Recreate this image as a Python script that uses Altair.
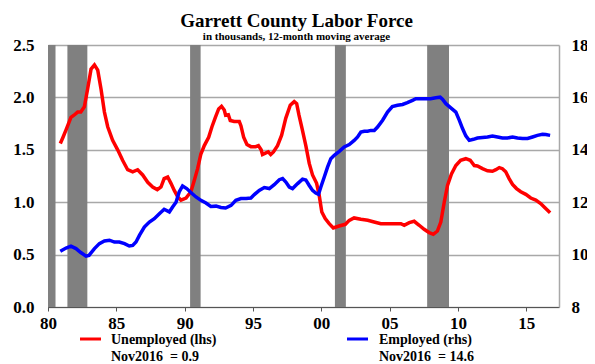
import altair as alt
import pandas as pd

# ---- data ----
unemp_year = [1980.9, 1981.1, 1981.32, 1981.5, 1981.68, 1981.9, 1982.17, 1982.4, 1982.66, 1982.9,
              1983.15, 1983.4, 1983.64, 1983.88, 1984.13, 1984.37, 1984.73, 1985.1, 1985.46, 1985.83,
              1986.2, 1986.56, 1986.93, 1987.3, 1987.66, 1988.0, 1988.27, 1988.5, 1988.76, 1989.0,
              1989.25, 1989.5, 1989.73, 1990.1, 1990.46, 1990.71, 1990.95, 1991.19, 1991.44, 1991.76,
              1992.0, 1992.25, 1992.49, 1992.7, 1992.9, 1993.0, 1993.2, 1993.34, 1993.63, 1994.0,
              1994.12, 1994.32, 1994.56, 1994.85, 1995.2, 1995.4, 1995.6, 1995.7, 1995.95, 1996.12,
              1996.3, 1996.5, 1996.8, 1997.1, 1997.4, 1997.73, 1998.02, 1998.2, 1998.37, 1998.6,
              1998.87, 1999.12, 1999.36, 1999.66, 1999.85, 2000.04, 2000.29, 2000.58, 2000.88, 2001.3,
              2001.76, 2002.05, 2002.4, 2002.9, 2003.4, 2003.87, 2004.36, 2004.85, 2005.34, 2005.83,
              2006.07, 2006.44, 2006.8, 2007.17, 2007.53, 2007.9, 2008.2, 2008.5, 2008.75, 2009.0,
              2009.24, 2009.53, 2009.85, 2010.2, 2010.58, 2010.9, 2011.2, 2011.43, 2011.8, 2012.17,
              2012.53, 2012.78, 2013.03, 2013.26, 2013.5, 2013.75, 2014.0, 2014.29, 2014.6, 2014.97,
              2015.33, 2015.7, 2016.06, 2016.39, 2016.75]
unemp_val = [1.56, 1.62, 1.69, 1.75, 1.81, 1.83, 1.86, 1.86, 1.91, 2.08,
             2.27, 2.31, 2.26, 2.08, 1.86, 1.72, 1.59, 1.50, 1.40, 1.31,
             1.29, 1.31, 1.26, 1.19, 1.145, 1.12, 1.145, 1.225, 1.24, 1.18,
             1.11, 1.05, 1.02, 1.04, 1.10, 1.21, 1.32, 1.46, 1.54, 1.62,
             1.72, 1.81, 1.89, 1.915, 1.88, 1.83, 1.835, 1.78, 1.77, 1.77,
             1.73, 1.62, 1.55, 1.53, 1.53, 1.54, 1.50, 1.455, 1.47, 1.48,
             1.455, 1.48, 1.54, 1.64, 1.80, 1.925, 1.96, 1.94, 1.83, 1.70,
             1.54, 1.37, 1.26, 1.18, 1.065, 0.907, 0.843, 0.795, 0.754, 0.773,
             0.789, 0.827, 0.85, 0.837, 0.827, 0.811, 0.795, 0.795, 0.795, 0.795,
             0.78, 0.805, 0.818, 0.78, 0.741, 0.71, 0.694, 0.725, 0.811, 1.00,
             1.16, 1.27, 1.35, 1.40, 1.415, 1.40, 1.35, 1.345, 1.32, 1.30,
             1.295, 1.31, 1.33, 1.32, 1.29, 1.225, 1.17, 1.13, 1.10, 1.075,
             1.04, 1.02, 0.987, 0.945, 0.90]

emp_year = [1980.9, 1981.32, 1981.68, 1982.05, 1982.4, 1982.78, 1983.0, 1983.4, 1983.76, 1984.13,
            1984.5, 1984.86, 1985.22, 1985.6, 1985.95, 1986.2, 1986.44, 1986.7, 1987.05, 1987.42,
            1987.78, 1988.15, 1988.5, 1988.88, 1989.12, 1989.37, 1989.6, 1989.85, 1990.15, 1990.46,
            1990.83, 1991.19, 1991.56, 1991.92, 1992.3, 1992.66, 1993.0, 1993.4, 1993.75, 1994.12,
            1994.5, 1994.85, 1995.1, 1995.46, 1995.83, 1996.2, 1996.56, 1996.93, 1997.17, 1997.41,
            1997.66, 1997.9, 1998.27, 1998.63, 1998.87, 1999.12, 1999.36, 1999.6, 1999.8, 1999.97,
            2000.22, 2000.46, 2000.7, 2000.95, 2001.32, 2001.68, 2002.05, 2002.41, 2002.66, 2002.9,
            2003.15, 2003.39, 2003.63, 2003.88, 2004.12, 2004.49, 2004.85, 2005.2, 2005.58, 2005.95,
            2006.3, 2006.68, 2006.92, 2007.29, 2007.65, 2008.0, 2008.38, 2008.7, 2008.87, 2009.12,
            2009.48, 2009.85, 2010.1, 2010.34, 2010.58, 2010.83, 2011.14, 2011.43, 2011.8, 2012.17,
            2012.53, 2012.9, 2013.26, 2013.63, 2014.0, 2014.36, 2014.73, 2015.1, 2015.46, 2015.82,
            2016.19, 2016.43, 2016.75]
emp_val = [10.13, 10.25, 10.32, 10.23, 10.08, 9.94, 9.97, 10.23, 10.42, 10.52,
           10.55, 10.48, 10.48, 10.42, 10.33, 10.35, 10.48, 10.74, 11.05, 11.24,
           11.37, 11.56, 11.73, 11.63, 11.82, 12.0, 12.39, 12.62, 12.52, 12.37,
           12.20, 12.07, 11.97, 11.84, 11.85, 11.80, 11.78, 11.88, 12.07, 12.14,
           12.14, 12.16, 12.29, 12.45, 12.56, 12.52, 12.67, 12.86, 12.90, 12.77,
           12.58, 12.52, 12.71, 12.88, 12.85, 12.64, 12.45, 12.35, 12.30, 12.58,
           12.96, 13.34, 13.66, 13.79, 13.94, 14.11, 14.20, 14.36, 14.49, 14.68,
           14.71, 14.71, 14.74, 14.74, 14.87, 15.13, 15.44, 15.65, 15.70, 15.73,
           15.80, 15.89, 15.95, 15.95, 15.95, 15.95, 15.99, 16.01, 15.93, 15.76,
           15.60, 15.44, 15.13, 14.81, 14.53, 14.36, 14.40, 14.45, 14.47, 14.49,
           14.53, 14.49, 14.45, 14.45, 14.49, 14.45, 14.43, 14.43, 14.49, 14.55,
           14.59, 14.58, 14.55]

rec_start = [1980.0, 1981.42, 1990.4, 2001.0, 2007.75]
rec_end = [1980.55, 1982.88, 1991.17, 2001.8, 2009.35]

x_ticks = [1980, 1985, 1990, 1995, 2000, 2005, 2010, 2015]
left_ticks = [0.0, 0.5, 1.0, 1.5, 2.0, 2.5]
right_ticks = [8, 10, 12, 14, 16, 18]

legend_labels = ["Unemployed (lhs)", "Employed (rhs)"]
legend_notes = ["Nov2016\u00a0\u00a0= 0.9", "Nov2016\u00a0\u00a0= 14.6"]

FONT = "Liberation Serif"
W, H = 511, 262

unemp_df = pd.DataFrame({"year": unemp_year, "value": unemp_val})
emp_df = pd.DataFrame({"year": emp_year, "value": emp_val})
rec_df = pd.DataFrame({"start": rec_start, "end": rec_end,
                       "lo": [left_ticks[0]] * len(rec_start),
                       "hi": [left_ticks[-1]] * len(rec_start)})

xscale = alt.Scale(domain=[1980, 2017.4], nice=False, zero=False)
lscale = alt.Scale(domain=[0, 2.5], nice=False, zero=False)
rscale = alt.Scale(domain=[8, 18], nice=False, zero=False)

lab = dict(labelFont=FONT, labelFontSize=17, labelFontWeight="bold", labelColor="black")

xaxis = alt.Axis(values=x_ticks, labelExpr="substring(toString(datum.value), 2, 4)",
                 grid=False, title=None, tickSize=4, tickColor="#555555", domainColor="#555555",
                 labelPadding=4, labelFlush=False, labelOverlap=False, **lab)
laxis = alt.Axis(values=left_ticks, format=".1f", grid=True, gridColor="#a8a8a8", gridWidth=1.5,
                 title=None, ticks=False, tickSize=0, domainColor="#555555", labelPadding=14, **lab)
raxis = alt.Axis(values=right_ticks, format="d", grid=False, orient="right", title=None,
                 ticks=False, tickSize=0, domainColor="#a8a8a8", domainWidth=1.5, labelPadding=12, **lab)

bands = alt.Chart(rec_df).mark_rect(color="#808080").encode(
    x=alt.X("start:Q", scale=xscale, axis=xaxis),
    x2="end:Q",
    y=alt.Y("lo:Q", scale=lscale, axis=laxis),
    y2="hi:Q",
)
red = alt.Chart(unemp_df).mark_line(color="#ff0000", strokeWidth=3.5).encode(
    x=alt.X("year:Q", scale=xscale, axis=xaxis),
    y=alt.Y("value:Q", scale=lscale, axis=laxis),
)
blue = alt.Chart(emp_df).mark_line(color="#0000ff", strokeWidth=3.5).encode(
    x=alt.X("year:Q", scale=xscale, axis=xaxis),
    y=alt.Y("value:Q", scale=rscale, axis=raxis),
)

one = pd.DataFrame({"k": [0]})
txt = dict(align="left", baseline="alphabetic", font=FONT, fontSize=14, fontWeight="bold", color="black")
leg_red_line = alt.Chart(one).mark_rule(color="#ff0000", strokeWidth=3).encode(
    x=alt.value(32), x2=alt.value(53), y=alt.value(294))
leg_blue_line = alt.Chart(one).mark_rule(color="#0000ff", strokeWidth=3).encode(
    x=alt.value(299), x2=alt.value(320), y=alt.value(294))
leg_red_t1 = alt.Chart(one).mark_text(**txt).encode(x=alt.value(63), y=alt.value(299), text=alt.value(legend_labels[0]))
leg_red_t2 = alt.Chart(one).mark_text(**txt).encode(x=alt.value(63), y=alt.value(316), text=alt.value(legend_notes[0]))
leg_blue_t1 = alt.Chart(one).mark_text(**txt).encode(x=alt.value(331), y=alt.value(299), text=alt.value(legend_labels[1]))
leg_blue_t2 = alt.Chart(one).mark_text(**txt).encode(x=alt.value(331), y=alt.value(316), text=alt.value(legend_notes[1]))

chart = alt.layer(
    alt.layer(bands, red),
    blue,
    leg_red_line, leg_blue_line, leg_red_t1, leg_red_t2, leg_blue_t1, leg_blue_t2,
).resolve_scale(y="independent").properties(
    width=W, height=H,
    background="white",
    autosize=alt.AutoSizeParams(type="none"),
    padding={"left": 40, "top": 37, "right": 28, "bottom": 57},
    title=alt.TitleParams(
        text="Garrett County Labor Force",
        subtitle="in thousands, 12-month moving average",
        font=FONT, fontSize=19, fontWeight="bold", color="black",
        subtitleFont=FONT, subtitleFontSize=11, subtitleFontWeight="bold", subtitleColor="black",
        anchor="middle", offset=-6, subtitlePadding=0, dx=-7,
    ),
).configure_view(stroke=None)

chart.save("out.html", embed_options={"renderer": "svg", "actions": False})
